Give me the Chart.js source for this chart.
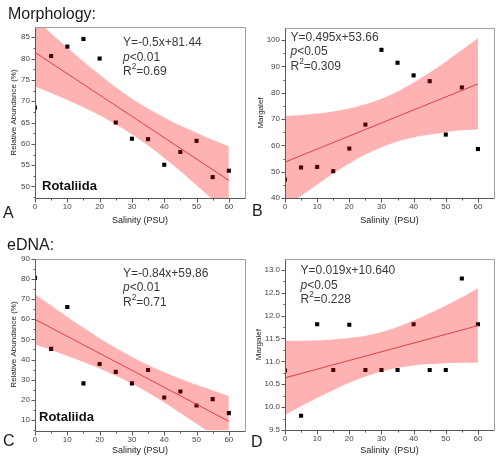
<!DOCTYPE html>
<html>
<head>
<meta charset="utf-8">
<script src="https://cdn.jsdelivr.net/npm/chart.js@4.4.1/dist/chart.umd.min.js"></script>
<style>
  body { margin: 0; background: #fff; font-family: "Liberation Sans", Arial, sans-serif; }
  #page { position: relative; width: 500px; height: 465px; overflow: hidden; }
  canvas { position: absolute; }
  .lbl { position: absolute; white-space: pre; color: #1a1a1a; }
  .head, .letter { font-size: 16px; line-height: 16px; }
  .eq { font-size: 12px; line-height: 14.5px; color: #3a3a3a; }
  .eq sup { font-size: 0.7em; line-height: 0; position: relative; top: -0.1em; vertical-align: super; }
  .taxon { font-size: 13px; line-height: 13px; font-weight: bold; color: #111; }
</style>
</head>
<body>
<div id="page">
  <canvas id="chartA" width="250" height="232" style="left:0;top:0"></canvas>
  <canvas id="chartB" width="250" height="232" style="left:250px;top:0"></canvas>
  <canvas id="chartC" width="250" height="233" style="left:0;top:232px"></canvas>
  <canvas id="chartD" width="250" height="233" style="left:250px;top:232px"></canvas>

  <div class="lbl head" style="left:8px;top:6px">Morphology:</div>
  <div class="lbl head" style="left:7px;top:236.5px">eDNA:</div>

  <div class="lbl letter" style="left:3px;top:205px">A</div>
  <div class="lbl letter" style="left:252px;top:203px">B</div>
  <div class="lbl letter" style="left:3px;top:433px">C</div>
  <div class="lbl letter" style="left:251px;top:434px">D</div>

  <div class="lbl eq" style="left:123px;top:35px">Y=-0.5x+81.44<br><i>p</i>&lt;0.01<br>R<sup>2</sup>=0.69</div>
  <div class="lbl eq" style="left:290.5px;top:29.5px">Y=0.495x+53.66<br><i>p</i>&lt;0.05<br>R<sup>2</sup>=0.309</div>
  <div class="lbl eq" style="left:123px;top:265.5px">Y=-0.84x+59.86<br><i>p</i>&lt;0.01<br>R<sup>2</sup>=0.71</div>
  <div class="lbl eq" style="left:300.5px;top:263px">Y=0.019x+10.640<br><i>p</i>&lt;0.05<br>R<sup>2</sup>=0.228</div>

  <div class="lbl taxon" style="left:42px;top:178.5px">Rotaliida</div>
  <div class="lbl taxon" style="left:39px;top:410px">Rotaliida</div>
</div>

<script>
  // salinity sampling points (PSU), shared by all four panels
  const salinity = [0, 5, 10, 15, 20, 25, 30, 35, 40, 45, 50, 55, 60];
  const fitX = [0, 60];
  const xTicks = [0, 10, 20, 30, 40, 50, 60];

  // A: morphology, relative abundance of Rotaliida (%)
  const abundMorph = [68.5, 80.6, 82.8, 84.6, 80.0, 65.0, 61.2, 61.1, 55.1, 58.1, 60.7, 52.2, 53.7];
  const fitAbundMorph = [81.44, 51.44];
  const upAbundMorph = [89.4, 85.9, 82.6, 79.3, 76.2, 73.3, 70.6, 68.3, 66.2, 64.3, 62.6, 60.9, 59.4];
  const loAbundMorph = [73.5, 71.9, 70.3, 68.6, 66.7, 64.6, 62.2, 59.6, 56.7, 53.6, 50.3, 46.9, 43.5];
  const yTicksA = [50, 55, 60, 65, 70, 75, 80, 85];

  // B: morphology, Margalef index
  const margMorph = [47.0, 51.6, 51.8, 50.2, 58.8, 67.9, 96.3, 91.4, 86.6, 84.4, 64.1, 82.0, 58.6];
  const fitMargMorph = [53.66, 83.36];
  const upMargMorph = [71.1, 71.5, 72.1, 72.9, 74.0, 75.6, 77.7, 80.5, 83.9, 87.7, 91.8, 96.2, 100.8];
  const loMargMorph = [36.3, 40.8, 45.1, 49.3, 53.1, 56.5, 59.3, 61.5, 63.0, 64.1, 65.0, 65.7, 66.0];
  const yTicksB = [40, 50, 60, 70, 80, 90, 100];

  // C: eDNA, relative abundance of Rotaliida (%)
  const abundEdna = [80.4, 45.3, 66.0, 28.2, 37.8, 33.9, 28.2, 34.8, 21.2, 24.2, 17.3, 20.4, 13.5];
  const fitAbundEdna = [59.86, 9.46];
  const upAbundEdna = [72.3, 66.7, 61.1, 55.7, 50.5, 45.7, 41.3, 37.3, 33.7, 30.5, 27.5, 24.7, 21.9];
  const loAbundEdna = [47.4, 44.7, 41.8, 38.8, 35.6, 32.0, 28.1, 23.6, 18.8, 13.6, 8.2, 2.7, -3.0];
  const yTicksC = [10, 20, 30, 40, 50, 60, 70, 80, 90];

  // D: eDNA, Margalef index
  const margEdna = [10.80, 9.81, 11.81, 10.81, 11.80, 10.81, 10.81, 10.81, 11.81, 10.81, 10.81, 12.81, 11.81];
  const fitMargEdna = [10.64, 11.78];
  const upMargEdna = [11.45, 11.45, 11.46, 11.48, 11.51, 11.56, 11.64, 11.75, 11.89, 12.05, 12.22, 12.40, 12.59];
  const loMargEdna = [9.83, 10.02, 10.20, 10.37, 10.53, 10.67, 10.78, 10.86, 10.91, 10.94, 10.96, 10.97, 10.97];
  const yTicksD = [9.5, 10.0, 10.5, 11.0, 11.5, 12.0, 12.5, 13.0];

  Chart.defaults.font.family = '"Liberation Sans", Arial, sans-serif';

  const panels = [
    {id: "chartA", y: abundMorph, fit: fitAbundMorph, up: upAbundMorph, lo: loAbundMorph,
      yTicks: yTicksA, dec: 0, yMin: 47.3, yMax: 87.4, yTitle: "Relative Abundance (%)",
      xTitle: "Salinity (PSU)", w: 250, h: 232, left: 35, right: 245, top: 27, bottom: 198,
      yTitlePad: 9.2, xTitlePad: 6.1},
    {id: "chartB", y: margMorph, fit: fitMargMorph, up: upMargMorph, lo: loMargMorph,
      yTicks: yTicksB, dec: 0, yMin: 40, yMax: 104.6, yTitle: "Margalef",
      xTitle: "Salinity  (PSU)", w: 250, h: 232, left: 35, right: 244, top: 28, bottom: 198,
      yTitlePad: 6.2, xTitlePad: 6.1},
    {id: "chartC", y: abundEdna, fit: fitAbundEdna, up: upAbundEdna, lo: loAbundEdna,
      yTicks: yTicksC, dec: 0, yMin: 4.9, yMax: 90, yTitle: "Relative Abundance (%)",
      xTitle: "Salinity (PSU)", w: 250, h: 233, left: 35, right: 245, top: 26.5, bottom: 198.5,
      yTitlePad: 9.2, xTitlePad: 9.1},
    {id: "chartD", y: margEdna, fit: fitMargEdna, up: upMargEdna, lo: loMargEdna,
      yTicks: yTicksD, dec: 1, yMin: 9.5, yMax: 13.23, yTitle: "Margalef",
      xTitle: "Salinity  (PSU)", w: 250, h: 233, left: 35, right: 244, top: 27.3, bottom: 198,
      yTitlePad: 4.2, xTitlePad: 8.6},
  ];

  // box frame plus major / minor tick marks (minor ones halfway between majors)
  const frameTicks = {
    id: "frameTicks",
    afterDatasetsDraw(chart) {
      const {ctx, chartArea: a, scales: {x, y}} = chart;
      const L = Math.round(a.left) + 0.5, R = Math.round(a.right) + 0.5;
      const T = Math.round(a.top) + 0.5, B = Math.round(a.bottom) + 0.5;
      ctx.save();
      ctx.lineWidth = 1;
      ctx.strokeStyle = "#a0a0a0";
      ctx.beginPath();
      ctx.moveTo(L, T); ctx.lineTo(R, T); ctx.lineTo(R, B);
      ctx.stroke();

      ctx.strokeStyle = "#5a5a5a";
      ctx.beginPath();
      ctx.moveTo(L, T); ctx.lineTo(L, B); ctx.lineTo(R, B);

      const xt = x.ticks.map((t) => t.value);
      const xs = xt[1] - xt[0];
      xt.forEach((v) => {
        const px = Math.round(x.getPixelForValue(v)) + 0.5;
        ctx.moveTo(px, B); ctx.lineTo(px, B + 4);
        const m = v + xs / 2;
        if (m < x.max) {
          const pm = Math.round(x.getPixelForValue(m)) + 0.5;
          ctx.moveTo(pm, B); ctx.lineTo(pm, B + 2);
        }
      });

      const yt = y.ticks.map((t) => t.value);
      const ys = yt[1] - yt[0];
      yt.forEach((v, i) => {
        const py = Math.round(y.getPixelForValue(v)) + 0.5;
        ctx.moveTo(L, py); ctx.lineTo(L - 4, py);
        [v - ys / 2, v + ys / 2].forEach((m, k) => {
          if (k === 1 && i < yt.length - 1) return;
          if (m <= y.min || m >= y.max) return;
          const pm = Math.round(y.getPixelForValue(m)) + 0.5;
          ctx.moveTo(L, pm); ctx.lineTo(L - 2, pm);
        });
      });
      ctx.stroke();
      ctx.restore();
    },
  };

  function xy(xs, ys) {
    return xs.map((x, i) => ({x, y: ys[i]}));
  }

  function makeChart(p) {
    return new Chart(document.getElementById(p.id), {
      type: "scatter",
      data: {
        datasets: [
          {
            data: xy(fitX, p.fit), showLine: true, order: 0,
            borderColor: "#e2403f", borderWidth: 1, pointRadius: 0,
          },
          {
            data: xy(salinity, p.up), showLine: true, order: 1, fill: "+1", tension: 0.3,
            backgroundColor: "rgba(255, 0, 0, 0.3)", borderColor: "transparent",
            borderWidth: 0, pointRadius: 0,
          },
          {
            data: xy(salinity, p.lo), showLine: true, order: 1, fill: false, tension: 0.3,
            borderColor: "transparent", borderWidth: 0, pointRadius: 0,
          },
          {
            data: xy(salinity, p.y), order: 2, clip: 0,
            pointStyle: "rect", pointRadius: 2.9, pointBorderWidth: 0,
            backgroundColor: "#000", borderColor: "#000",
          },
        ],
      },
      options: {
        responsive: false,
        animation: false,
        events: [],
        layout: {padding: {left: 0, top: p.top, right: p.w - p.right, bottom: 0}},
        plugins: {legend: {display: false}, tooltip: {enabled: false}},
        scales: {
          x: {
            type: "linear", min: 0, max: 65,
            grid: {display: false, drawTicks: false},
            border: {display: false},
            afterBuildTicks: (s) => { s.ticks = xTicks.map((v) => ({value: v})); },
            afterFit: (s) => { s.height = p.h - p.bottom; },
            ticks: {padding: 4, color: "#444", font: {size: 8}, maxRotation: 0, autoSkip: false},
            title: {display: true, text: p.xTitle, color: "#222", font: {size: 9},
              padding: {top: 0, bottom: p.xTitlePad}},
          },
          y: {
            type: "linear", min: p.yMin, max: p.yMax,
            grid: {display: false, drawTicks: false},
            border: {display: false},
            afterBuildTicks: (s) => { s.ticks = p.yTicks.map((v) => ({value: v})); },
            afterFit: (s) => { s.width = p.left; },
            ticks: {padding: 5, color: "#444", font: {size: 8}, autoSkip: false,
              callback: (v) => Number(v).toFixed(p.dec)},
            title: {display: true, text: p.yTitle, color: "#222", font: {size: 8},
              padding: {top: p.yTitlePad, bottom: 0}},
          },
        },
      },
      plugins: [frameTicks],
    });
  }

  panels.forEach(makeChart);
</script>
</body>
</html>
